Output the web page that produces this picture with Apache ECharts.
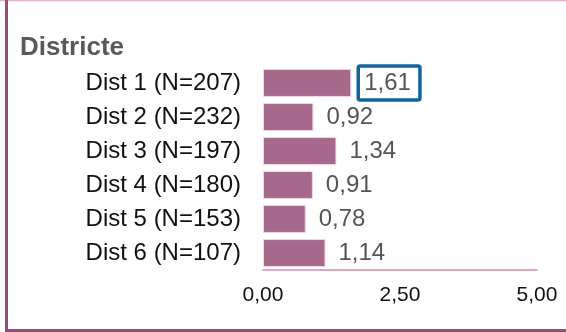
<!DOCTYPE html>
<html>
<head>
<meta charset="utf-8">
<script src="https://cdn.jsdelivr.net/npm/echarts@6/dist/echarts.min.js"></script>
<style>
  html, body { margin: 0; padding: 0; background: #fff; }
  #main { width: 566px; height: 332px; }
</style>
</head>
<body>
<div id="main"></div>
<script>
// dades
var districtes = ['Dist 1 (N=207)', 'Dist 2 (N=232)', 'Dist 3 (N=197)', 'Dist 4 (N=180)', 'Dist 5 (N=153)', 'Dist 6 (N=107)'];
var valors = [1.61, 0.92, 1.34, 0.91, 0.78, 1.14];
var destacat = 0; // barra amb el valor emmarcat

function fmt(v) {
    return v.toFixed(2).replace('.', ',');
}

var myChart = echarts.init(document.getElementById('main'));

var dades = [];
for (var i = 0; i < valors.length; i++) {
    var item = { value: valors[i] };
    if (i == destacat) {
        item.label = {
            distance: 7,
            borderColor: '#10659f',
            borderWidth: 3.5,
            borderRadius: 2,
            padding: [5, 9, 3, 6],
            lineHeight: 26
        };
    }
    dades.push(item);
}

var option = {
    animation: false,
    title: {
        text: 'Districte',
        left: 15,
        top: 30,
        textStyle: { fontFamily: 'Liberation Sans', fontSize: 26, fontWeight: 'bold', color: '#595959' }
    },
    grid: { left: 263, right: 29, top: 66, bottom: 62 },
    xAxis: {
        type: 'value',
        min: 0,
        max: 5,
        interval: 2.5,
        splitLine: { show: false },
        axisTick: { show: false },
        axisLine: { show: true, lineStyle: { color: '#dba9c4', width: 2 } },
        axisLabel: {
            margin: 15,
            fontFamily: 'Liberation Sans',
            fontSize: 21,
            color: '#111',
            formatter: function (v) { return fmt(v); }
        }
    },
    yAxis: {
        type: 'category',
        inverse: true,
        data: districtes,
        axisLine: { show: false },
        axisTick: { show: false },
        axisLabel: {
            margin: 22,
            fontFamily: 'Liberation Sans',
            fontSize: 24,
            color: '#111'
        }
    },
    series: [{
        type: 'bar',
        data: dades,
        barCategoryGap: '18%',
        itemStyle: { color: '#a6688b', borderColor: '#eed8e4', borderWidth: 1 },
        label: {
            show: true,
            position: 'right',
            distance: 13,
            fontFamily: 'Liberation Sans',
            fontSize: 24,
            color: '#555',
            formatter: function (p) { return fmt(p.value); }
        }
    }],
    graphic: [
        { type: 'line', shape: { x1: 0, y1: 0.5, x2: 566, y2: 0.5 }, style: { stroke: '#dcb3ca', lineWidth: 1.5 } },
        { type: 'line', shape: { x1: 6.5, y1: 0, x2: 6.5, y2: 332 }, style: { stroke: '#9c4a78', lineWidth: 3 } },
        { type: 'line', shape: { x1: 5, y1: 330.5, x2: 566, y2: 330.5 }, style: { stroke: '#9c4a78', lineWidth: 3 } }
    ]
};

myChart.setOption(option);
</script>
</body>
</html>
